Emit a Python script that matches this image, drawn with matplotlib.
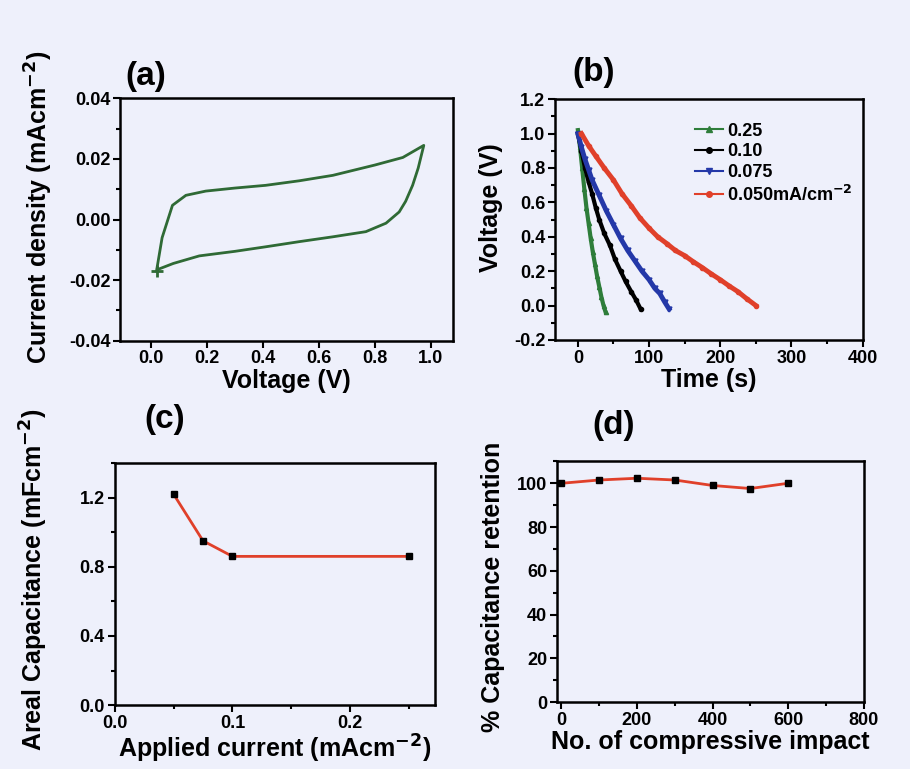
import numpy as np
import matplotlib
matplotlib.use("Agg")
import matplotlib.pyplot as plt
from matplotlib.ticker import MultipleLocator, FormatStrFormatter

plt.rcParams['font.family'] = ['Liberation Sans', 'DejaVu Sans']
plt.rcParams['font.weight'] = 'bold'
plt.rcParams['axes.labelweight'] = 'bold'

BG = '#eef0fb'

# (a) CV loop: upper (charge) branch then lower branch back
cv_v = [0.02, 0.04, 0.077, 0.125, 0.196, 0.30, 0.41, 0.53, 0.65, 0.80, 0.90, 0.975,
        0.955, 0.935, 0.91, 0.887, 0.84, 0.768, 0.65, 0.53, 0.41, 0.30, 0.173, 0.08, 0.024]
cv_j = [-0.017, -0.006, 0.0047, 0.008, 0.0094, 0.0104, 0.0113, 0.0128, 0.0146, 0.018, 0.0205, 0.0245,
        0.017, 0.0113, 0.006, 0.0025, -0.0012, -0.004, -0.0057, -0.0073, -0.009, -0.0105, -0.012, -0.0145, -0.0165]

# (b) galvanostatic discharge curves
t_025 = [0, 3, 6, 9, 12, 15, 18, 21, 24, 27, 30, 33, 36, 39]
v_025 = [1.02, 0.92, 0.80, 0.68, 0.57, 0.48, 0.39, 0.31, 0.24, 0.17, 0.11, 0.05, 0.0, -0.04]
t_010 = [0, 5, 10, 15, 20, 25, 30, 37, 45, 52, 60, 67, 75, 82, 88]
v_010 = [1.0, 0.90, 0.80, 0.72, 0.65, 0.57, 0.50, 0.42, 0.35, 0.27, 0.20, 0.14, 0.08, 0.03, -0.02]
t_0075 = [0, 5, 10, 15, 20, 30, 40, 50, 60, 70, 80, 90, 100, 108, 115, 122, 128]
v_0075 = [1.0, 0.92, 0.85, 0.79, 0.73, 0.64, 0.55, 0.47, 0.39, 0.32, 0.26, 0.20, 0.15, 0.10, 0.07, 0.02, -0.02]
t_005 = [5, 15, 25, 37, 50, 62, 75, 87, 100, 112, 125, 137, 150, 162, 175, 187, 200, 212, 225, 237, 250]
v_005 = [1.0, 0.93, 0.87, 0.80, 0.73, 0.65, 0.58, 0.51, 0.45, 0.40, 0.36, 0.32, 0.29, 0.255, 0.22, 0.185, 0.15, 0.115, 0.08, 0.04, 0.0]
b_labels = ['0.25', '0.10', '0.075', '0.050mA/cm$^{-2}$']

# (c) areal capacitance vs applied current
cur = [0.05, 0.075, 0.10, 0.25]
cap = [1.22, 0.95, 0.86, 0.86]

# (d) capacitance retention
impacts = [0, 100, 200, 300, 400, 500, 600]
retention = [100, 101.5, 102.3, 101.5, 99, 97.6, 100]

fig = plt.figure(figsize=(9.1, 7.69), dpi=100, facecolor=BG)
axa = fig.add_axes([0.132, 0.557, 0.366, 0.315])
axb = fig.add_axes([0.610, 0.558, 0.338, 0.313])
axc = fig.add_axes([0.126, 0.083, 0.352, 0.315])
axd = fig.add_axes([0.612, 0.087, 0.337, 0.313])

for ax in (axa, axb, axc, axd):
    ax.set_facecolor(BG)
    for s in ax.spines.values():
        s.set_linewidth(1.8)
    ax.tick_params(which='both', direction='out', width=1.5, labelsize=13, top=False, right=False, pad=2)
    ax.tick_params(which='major', length=5)
    ax.tick_params(which='minor', length=3)

LAB = 18
PAN = 24

# (a)
axa.plot(cv_v, cv_j, color='#2f6a35', lw=2)
axa.plot([cv_v[0]], [cv_j[0]], marker='+', color='#2f6a35', ms=8, mew=2)
axa.set_xlim(-0.11, 1.08)
axa.set_ylim(-0.04, 0.04)
axa.xaxis.set_major_locator(MultipleLocator(0.2))
axa.yaxis.set_major_locator(MultipleLocator(0.02))
axa.yaxis.set_minor_locator(MultipleLocator(0.01))
axa.xaxis.set_major_formatter(FormatStrFormatter('%.1f'))
axa.yaxis.set_major_formatter(FormatStrFormatter('%.2f'))
axa.set_xlabel('Voltage (V)', fontsize=LAB, labelpad=1)
axa.set_ylabel('Current density (mAcm$^{-2}$)', fontsize=LAB)
axa.yaxis.set_label_coords(-0.195, 0.55)
axa.text(0.015, 1.09, '(a)', transform=axa.transAxes, fontsize=PAN, fontweight='bold', ha='left', va='center')

# (b)
axb.plot(t_025, v_025, color='#2e7d3a', marker='^', ms=3, lw=3, label=b_labels[0])
axb.plot(t_010, v_010, color='black', marker='o', ms=3, lw=3, label=b_labels[1])
axb.plot(t_0075, v_0075, color='#2438a8', marker='v', ms=3.5, lw=3.5, label=b_labels[2])
axb.plot(t_005, v_005, color='#e0402a', marker='o', ms=3, lw=3.5, label=b_labels[3])
axb.set_xlim(-32, 400)
axb.set_ylim(-0.2, 1.2)
axb.xaxis.set_major_locator(MultipleLocator(100))
axb.xaxis.set_minor_locator(MultipleLocator(50))
axb.yaxis.set_major_locator(MultipleLocator(0.2))
axb.yaxis.set_minor_locator(MultipleLocator(0.1))
axb.yaxis.set_major_formatter(FormatStrFormatter('%.1f'))
axb.set_xlabel('Time (s)', fontsize=LAB, labelpad=1)
axb.set_ylabel('Voltage (V)', fontsize=LAB)
axb.yaxis.set_label_coords(-0.17, 0.55)
leg = axb.legend(loc='upper right', bbox_to_anchor=(1.02, 0.97), frameon=False, fontsize=13,
                 handlelength=1.6, handletextpad=0.2, labelspacing=0.2)
for h in leg.legend_handles:
    h.set_linewidth(1.5)
    h.set_markersize(4)
axb.text(0.055, 1.11, '(b)', transform=axb.transAxes, fontsize=PAN, fontweight='bold', ha='left', va='center')

# (c)
axc.plot(cur, cap, color='#e0402a', lw=2)
axc.plot(cur, cap, 's', color='black', ms=4.5)
axc.set_xlim(0, 0.272)
axc.set_ylim(0, 1.4)
axc.xaxis.set_major_locator(MultipleLocator(0.1))
axc.xaxis.set_minor_locator(MultipleLocator(0.05))
axc.yaxis.set_major_locator(MultipleLocator(0.4))
axc.yaxis.set_minor_locator(MultipleLocator(0.2))
axc.xaxis.set_major_formatter(FormatStrFormatter('%.1f'))
axc.yaxis.set_major_formatter(FormatStrFormatter('%.1f'))
axc.set_xlabel('Applied current (mAcm$^{-2}$)', fontsize=LAB, labelpad=1)
axc.set_ylabel('Areal Capacitance (mFcm$^{-2}$)', fontsize=LAB)
axc.yaxis.set_label_coords(-0.203, 0.52)
axc.text(0.094, 1.18, '(c)', transform=axc.transAxes, fontsize=PAN, fontweight='bold', ha='left', va='center')

# (d)
axd.plot(impacts, retention, color='#e0402a', lw=2)
axd.plot(impacts, retention, 's', color='black', ms=4.5)
axd.set_xlim(-12, 800)
axd.set_ylim(0, 110)
axd.xaxis.set_major_locator(MultipleLocator(200))
axd.xaxis.set_minor_locator(MultipleLocator(100))
axd.yaxis.set_major_locator(MultipleLocator(20))
axd.yaxis.set_minor_locator(MultipleLocator(10))
axd.set_xlabel('No. of compressive impact', fontsize=LAB, labelpad=1)
axd.set_ylabel('% Capacitance retention', fontsize=LAB)
axd.yaxis.set_label_coords(-0.17, 0.48)
axd.text(0.114, 1.15, '(d)', transform=axd.transAxes, fontsize=PAN, fontweight='bold', ha='left', va='center')

fig.savefig('out.png', dpi=100, facecolor=BG)
